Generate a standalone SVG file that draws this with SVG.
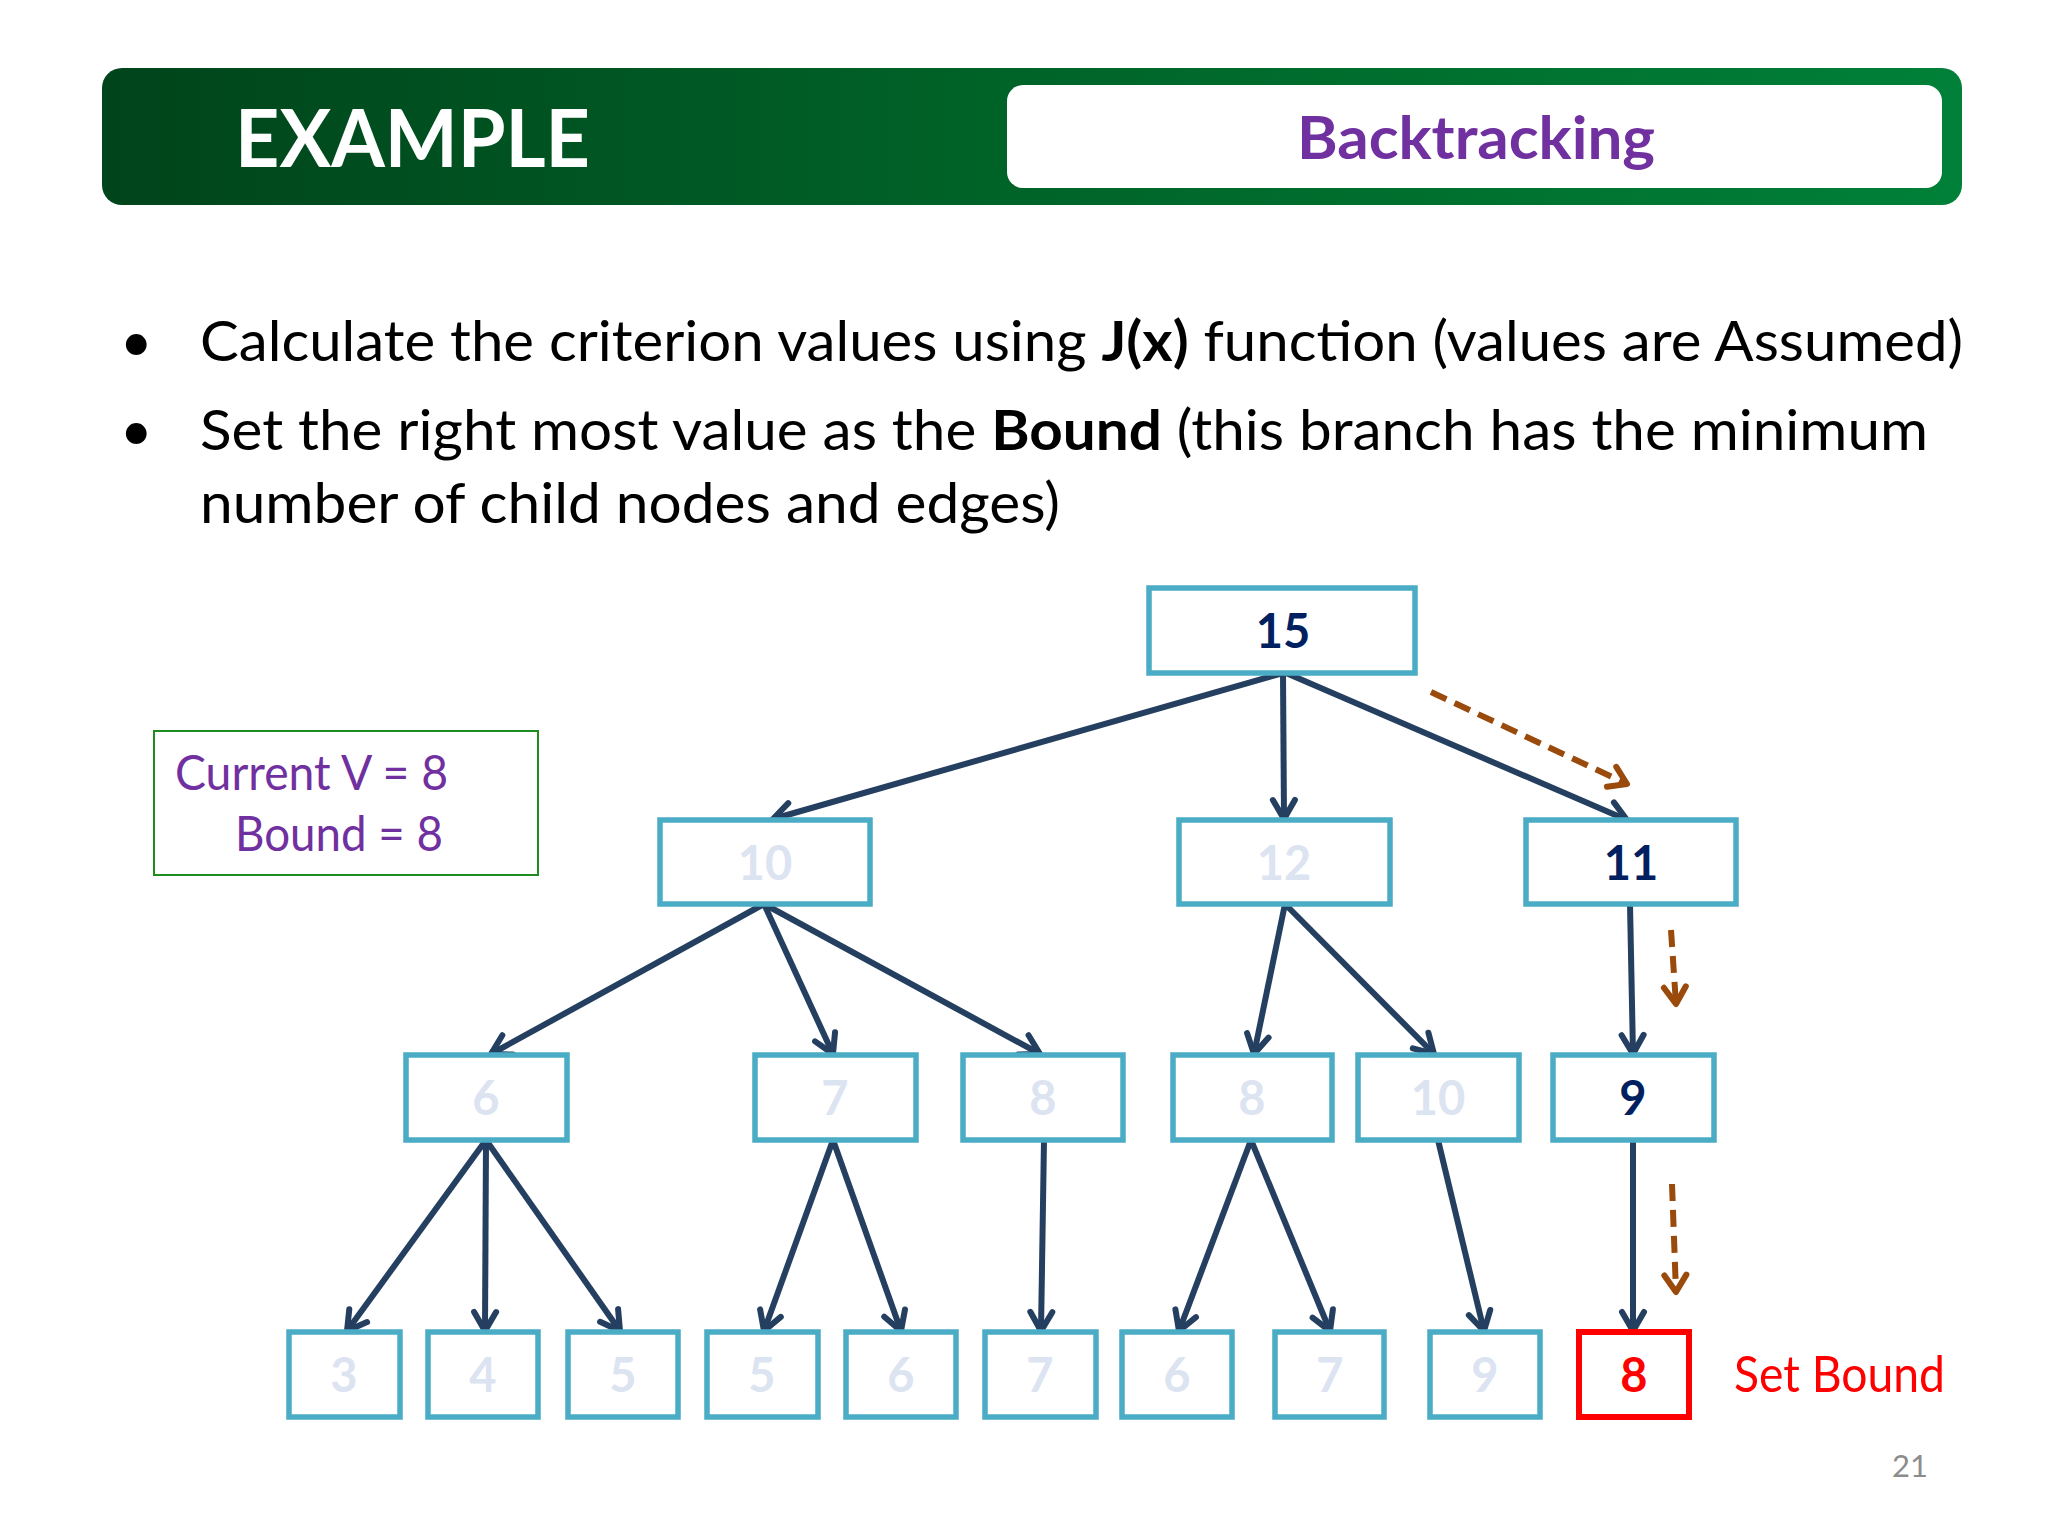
<svg xmlns="http://www.w3.org/2000/svg" width="2048" height="1536" viewBox="0 0 2048 1536">
<defs>
<linearGradient id="hdr" x1="0" y1="0" x2="1" y2="0">
<stop offset="0" stop-color="#00441b"/>
<stop offset="0.5" stop-color="#006428"/>
<stop offset="1" stop-color="#008038"/>
</linearGradient>
<marker id="ah" markerUnits="userSpaceOnUse" viewBox="-26 -16 32 32" refX="0" refY="0" markerWidth="32" markerHeight="32" orient="auto">
<path d="M-19,-11 L0,0 L-19,11" fill="none" stroke="#243F60" stroke-width="6" stroke-linecap="round" stroke-linejoin="round"/>
</marker>
<marker id="bh" markerUnits="userSpaceOnUse" viewBox="-26 -16 32 32" refX="0" refY="0" markerWidth="32" markerHeight="32" orient="auto">
<path d="M-17,-11 L0,0 L-17,11" fill="none" stroke="#9A4A0A" stroke-width="6" stroke-dasharray="none" stroke-linecap="round" stroke-linejoin="round"/>
</marker>
</defs>
<style>
text{font-family:Lato,"Open Sans","Liberation Sans",sans-serif}
.node rect{fill:#ffffff;stroke:#4BACC6;stroke-width:5.5}
.node text{font-size:47px;font-weight:bold;text-anchor:middle}
.dim{fill:#DCE3F1}
.act{fill:#002060}
.edge{stroke:#243F60;stroke-width:6;fill:none;marker-end:url(#ah)}
.trace{stroke:#9A4A0A;stroke-width:6;fill:none;stroke-dasharray:17 9;marker-end:url(#bh)}
.bul{font-size:56px;fill:#000000}
</style>
<rect width="2048" height="1536" fill="#ffffff"/>
<g id="header">
<rect x="102" y="68" width="1860" height="137" rx="20" fill="url(#hdr)"/>
<rect x="1007" y="85" width="935" height="103" rx="16" fill="#ffffff"/>
<text x="235" y="167" font-size="81" font-weight="bold" fill="#ffffff" textLength="355" lengthAdjust="spacingAndGlyphs">EXAMPLE</text>
<text x="1297" y="159" font-size="60" font-weight="bold" fill="#7030A0" textLength="358" lengthAdjust="spacingAndGlyphs">Backtracking</text>
</g>
<g id="bullets">
<text x="120" y="361" class="bul" font-size="50">•</text>
<text x="200" y="361" class="bul" textLength="1763" lengthAdjust="spacingAndGlyphs">Calculate the criterion values using <tspan font-weight="bold">J(x)</tspan> function (values are Assumed)</text>
<text x="120" y="450" class="bul" font-size="50">•</text>
<text x="200" y="450" class="bul" textLength="1728" lengthAdjust="spacingAndGlyphs">Set the right most value as the <tspan font-weight="bold">Bound</tspan> (this branch has the minimum</text>
<text x="200" y="523" class="bul" textLength="860" lengthAdjust="spacingAndGlyphs">number of child nodes and edges)</text>
</g>
<g id="status">
<rect x="154" y="731" width="384" height="144" fill="none" stroke="#1E8C1E" stroke-width="2"/>
<text x="175" y="790" font-size="48" fill="#7030A0" textLength="273" lengthAdjust="spacingAndGlyphs">Current V = 8</text>
<text x="235" y="851" font-size="48" fill="#7030A0" textLength="208" lengthAdjust="spacingAndGlyphs">Bound = 8</text>
</g>
<g id="connectors">
<line class="edge" x1="1283" y1="673" x2="773" y2="819"/>
<line class="edge" x1="1283" y1="673" x2="1284" y2="819"/>
<line class="edge" x1="1286" y1="673" x2="1627" y2="820"/>
<line class="edge" x1="764" y1="904" x2="491" y2="1054"/>
<line class="edge" x1="764" y1="904" x2="833" y2="1054"/>
<line class="edge" x1="764" y1="904" x2="1040" y2="1054"/>
<line class="edge" x1="1285" y1="904" x2="1254" y2="1054"/>
<line class="edge" x1="1285" y1="904" x2="1434" y2="1054"/>
<line class="edge" x1="1630" y1="904" x2="1633" y2="1054"/>
<line class="edge" x1="486" y1="1140" x2="347" y2="1331"/>
<line class="edge" x1="486" y1="1140" x2="485" y2="1331"/>
<line class="edge" x1="486" y1="1140" x2="620" y2="1331"/>
<line class="edge" x1="833" y1="1140" x2="764" y2="1331"/>
<line class="edge" x1="833" y1="1140" x2="901" y2="1331"/>
<line class="edge" x1="1044" y1="1140" x2="1041" y2="1331"/>
<line class="edge" x1="1251" y1="1140" x2="1179" y2="1331"/>
<line class="edge" x1="1251" y1="1140" x2="1330" y2="1331"/>
<line class="edge" x1="1438" y1="1140" x2="1484" y2="1331"/>
<line class="edge" x1="1633" y1="1140" x2="1633" y2="1331"/>
<line class="trace" x1="1431" y1="692" x2="1627" y2="784"/>
<line class="trace" x1="1671" y1="930" x2="1676" y2="1004"/>
<line class="trace" x1="1672" y1="1184" x2="1676" y2="1292"/>
</g>
<g id="n15" class="node"><rect x="1149" y="588" width="266" height="85"/><text x="1283" y="648" class="act">15</text></g>
<g id="n10a" class="node"><rect x="660" y="820" width="210" height="84"/><text x="765" y="880" class="dim">10</text></g>
<g id="n12" class="node"><rect x="1179" y="820" width="211" height="84"/><text x="1284" y="880" class="dim">12</text></g>
<g id="n11" class="node"><rect x="1526" y="820" width="210" height="84"/><text x="1631" y="880" class="act">11</text></g>
<g id="n6a" class="node"><rect x="406" y="1055" width="161" height="85"/><text x="486" y="1115" class="dim">6</text></g>
<g id="n7a" class="node"><rect x="755" y="1055" width="161" height="85"/><text x="835" y="1115" class="dim">7</text></g>
<g id="n8a" class="node"><rect x="963" y="1055" width="160" height="85"/><text x="1043" y="1115" class="dim">8</text></g>
<g id="n8b" class="node"><rect x="1173" y="1055" width="159" height="85"/><text x="1252" y="1115" class="dim">8</text></g>
<g id="n10b" class="node"><rect x="1358" y="1055" width="161" height="85"/><text x="1438" y="1115" class="dim">10</text></g>
<g id="n9a" class="node"><rect x="1553" y="1055" width="161" height="85"/><text x="1633" y="1115" class="act">9</text></g>
<g id="n3" class="node"><rect x="289" y="1332" width="111" height="85"/><text x="344" y="1392" class="dim">3</text></g>
<g id="n4" class="node"><rect x="428" y="1332" width="110" height="85"/><text x="483" y="1392" class="dim">4</text></g>
<g id="n5a" class="node"><rect x="568" y="1332" width="110" height="85"/><text x="623" y="1392" class="dim">5</text></g>
<g id="n5b" class="node"><rect x="707" y="1332" width="111" height="85"/><text x="762" y="1392" class="dim">5</text></g>
<g id="n6b" class="node"><rect x="846" y="1332" width="110" height="85"/><text x="901" y="1392" class="dim">6</text></g>
<g id="n7b" class="node"><rect x="985" y="1332" width="111" height="85"/><text x="1040" y="1392" class="dim">7</text></g>
<g id="n6c" class="node"><rect x="1122" y="1332" width="110" height="85"/><text x="1177" y="1392" class="dim">6</text></g>
<g id="n7c" class="node"><rect x="1275" y="1332" width="109" height="85"/><text x="1330" y="1392" class="dim">7</text></g>
<g id="n9b" class="node"><rect x="1430" y="1332" width="110" height="85"/><text x="1485" y="1392" class="dim">9</text></g>
<g id="n8c" class="node"><rect x="1579" y="1332" width="110" height="85" style="stroke:#FF0000;stroke-width:6"/><text x="1634" y="1392" fill="#FF0000">8</text></g>
<g id="labels">
<text x="1734" y="1392" font-size="50" fill="#FF0000" textLength="211" lengthAdjust="spacingAndGlyphs">Set Bound</text>
<text x="1892" y="1477" font-size="31" fill="#8C8C8C">21</text>
</g>
</svg>
